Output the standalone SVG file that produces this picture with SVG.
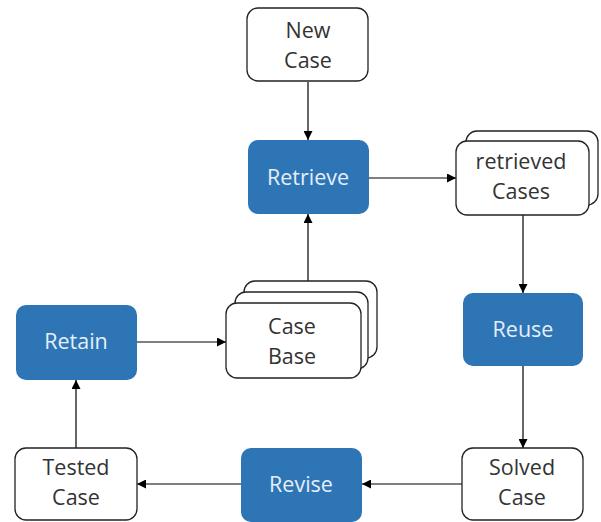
<svg xmlns="http://www.w3.org/2000/svg" width="601" height="522" viewBox="0 0 601 522">
<defs>
<style>
.w{fill:#fff;stroke:#222;stroke-width:1.3}
.b{fill:#2E75B6;stroke:none}
.t{font-family:"Open Sans","Liberation Sans",sans-serif;font-size:21.5px;text-anchor:middle;fill:#333}
.tb{font-family:"Open Sans","Liberation Sans",sans-serif;font-size:21.5px;text-anchor:middle;fill:#e6eef8}
.c{stroke:#000;stroke-width:1.2;fill:none;marker-end:url(#ah)}
</style>
<marker id="ah" viewBox="0 0 10 10" refX="10" refY="5" markerWidth="9" markerHeight="9" markerUnits="userSpaceOnUse" orient="auto">
<path d="M0,0 L10,5 L0,10 z" fill="#000"/>
</marker>
</defs>
<g id="connectors">
<line class="c" x1="308" y1="82" x2="308" y2="140"/>
<line class="c" x1="369" y1="178" x2="456" y2="178"/>
<line class="c" x1="523" y1="215" x2="523" y2="293"/>
<line class="c" x1="523" y1="366" x2="523" y2="448"/>
<line class="c" x1="462" y1="484" x2="362" y2="484"/>
<line class="c" x1="241" y1="484" x2="137" y2="484"/>
<line class="c" x1="76" y1="448" x2="76" y2="380"/>
<line class="c" x1="137" y1="342" x2="226" y2="342"/>
<line class="c" x1="308" y1="281" x2="308" y2="214"/>
</g>
<g id="new-case">
<rect class="w" x="247" y="8" width="121" height="73" rx="11"/>
<text class="t" x="308" y="38">New</text>
<text class="t" x="308" y="68">Case</text>
</g>
<g id="retrieve">
<rect class="b" x="248" y="140" width="121" height="74" rx="10"/>
<text class="tb" x="308" y="185">Retrieve</text>
</g>
<g id="retrieved-cases">
<rect class="w" x="466" y="131" width="132" height="74" rx="11"/>
<rect class="w" x="456" y="141" width="133" height="74" rx="11"/>
<text class="t" x="521" y="169">retrieved</text>
<text class="t" x="521" y="199">Cases</text>
</g>
<g id="reuse">
<rect class="b" x="463" y="293" width="120" height="73" rx="10"/>
<text class="tb" x="523" y="337">Reuse</text>
</g>
<g id="case-base">
<rect class="w" x="244" y="281" width="133" height="77" rx="11"/>
<rect class="w" x="235" y="292" width="133" height="77" rx="11"/>
<rect class="w" x="226" y="303" width="135" height="75" rx="11"/>
<text class="t" x="292" y="334">Case</text>
<text class="t" x="292" y="364">Base</text>
</g>
<g id="retain">
<rect class="b" x="16" y="305" width="121" height="75" rx="10"/>
<text class="tb" x="76" y="349">Retain</text>
</g>
<g id="tested-case">
<rect class="w" x="15" y="448" width="122" height="72" rx="11"/>
<text class="t" x="76" y="475">Tested</text>
<text class="t" x="76" y="505">Case</text>
</g>
<g id="revise">
<rect class="b" x="241" y="448" width="121" height="74" rx="10"/>
<text class="tb" x="301" y="492">Revise</text>
</g>
<g id="solved-case">
<rect class="w" x="462" y="448" width="121" height="72" rx="11"/>
<text class="t" x="522" y="475">Solved</text>
<text class="t" x="522" y="505">Case</text>
</g>
</svg>
